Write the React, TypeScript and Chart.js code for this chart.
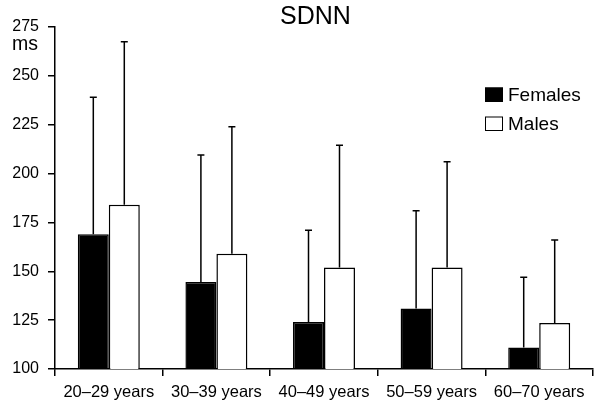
import React, { useEffect, useRef } from "react";
import { Chart, registerables } from "chart.js";

Chart.register(...registerables);

const categories = ["20–29 years", "30–39 years", "40–49 years", "50–59 years", "60–70 years"];
const femaleMean = [169, 144.5, 124, 131, 111];
const femaleSD = [70, 65, 47, 50, 36];
const maleMean = [184, 159, 152, 152, 123.5];
const maleSD = [83.5, 65, 62.5, 54, 42.5];
const yTicks = [100, 125, 150, 175, 200, 225, 250, 275];
const titleText = "SDNN";
const unitText = "ms";

const FONT = "'Liberation Sans', Arial, Helvetica, sans-serif";

// Upward-only SD whiskers with a short cap, drawn from each bar's top.
const errorBars = {
  id: "errorBars",
  afterDatasetsDraw(chart: any) {
    const { ctx } = chart;
    const y = chart.scales.y;
    ctx.save();
    ctx.strokeStyle = "#000";
    ctx.lineWidth = 1.5;
    chart.data.datasets.forEach((ds: any, di: number) => {
      const meta = chart.getDatasetMeta(di);
      meta.data.forEach((bar: any, i: number) => {
        const top = y.getPixelForValue(ds.data[i] + ds.sd[i]);
        ctx.beginPath();
        ctx.moveTo(bar.x, bar.y);
        ctx.lineTo(bar.x, top);
        ctx.moveTo(bar.x - 3.5, top);
        ctx.lineTo(bar.x + 3.5, top);
        ctx.stroke();
      });
    });
    ctx.restore();
  },
};

// Title, unit label and the boxed legend.
const annotations = {
  id: "annotations",
  afterDraw(chart: any) {
    const { ctx } = chart;
    ctx.save();
    ctx.fillStyle = "#000";
    ctx.textBaseline = "alphabetic";
    ctx.textAlign = "left";
    ctx.font = `25px ${FONT}`;
    ctx.fillText(titleText, 280, 23.5);
    ctx.font = `19.5px ${FONT}`;
    ctx.fillText(unitText, 12, 50);

    ctx.font = `19px ${FONT}`;
    chart.data.datasets.forEach((ds: any, i: number) => {
      const by = 101 + i * 29;
      ctx.fillStyle = ds.backgroundColor;
      ctx.fillRect(485, by - 13.5, 18, 14);
      ctx.strokeStyle = "#000";
      ctx.lineWidth = 1;
      ctx.strokeRect(485.5, by - 13, 17, 13.5);
      ctx.fillStyle = "#000";
      ctx.fillText(ds.label, 508, by);
    });
    ctx.restore();
  },
};

export default function App() {
  const ref = useRef<HTMLCanvasElement>(null);

  useEffect(() => {
    document.body.style.margin = "0";
    const chart = new Chart(ref.current!, {
      type: "bar",
      data: {
        labels: categories,
        datasets: [
          {
            label: "Females",
            data: femaleMean,
            sd: femaleSD,
            backgroundColor: "#000",
            borderColor: "#000",
            borderWidth: 1.5,
          } as any,
          {
            label: "Males",
            data: maleMean,
            sd: maleSD,
            backgroundColor: "#fff",
            borderColor: "#000",
            borderWidth: 1.5,
          } as any,
        ],
      },
      options: {
        animation: false,
        responsive: false,
        events: [],
        layout: { padding: { top: 27, right: 1, left: 0, bottom: 0 } },
        datasets: { bar: { categoryPercentage: 0.576, barPercentage: 1 } },
        plugins: {
          legend: { display: false },
          title: { display: false },
          tooltip: { enabled: false },
        },
        scales: {
          x: {
            grid: {
              offset: true,
              drawOnChartArea: false,
              drawTicks: true,
              tickLength: 7,
              color: "#000",
              lineWidth: 1.5,
            },
            border: { display: true, color: "#000", width: 1.5 },
            ticks: {
              color: "#000",
              font: { family: FONT, size: 16.5 },
              padding: 7,
              maxRotation: 0,
            },
            afterFit: (s: any) => {
              s.height = 34;
            },
          },
          y: {
            min: 100,
            max: 275,
            afterBuildTicks: (s: any) => {
              s.ticks = yTicks.map((v) => ({ value: v }));
            },
            grid: {
              drawOnChartArea: false,
              drawTicks: true,
              tickLength: 7,
              color: "#000",
              lineWidth: 1.5,
            },
            border: { display: true, color: "#000", width: 1.5 },
            ticks: {
              color: "#000",
              font: { family: FONT, size: 16 },
              padding: 9,
            },
            afterFit: (s: any) => {
              s.width = 55;
            },
          },
        },
      },
      plugins: [errorBars, annotations],
    });
    return () => chart.destroy();
  }, []);

  return (
    <div style={{ width: 594, height: 403 }}>
      <canvas ref={ref} width={594} height={403} style={{ display: "block" }} />
    </div>
  );
}
